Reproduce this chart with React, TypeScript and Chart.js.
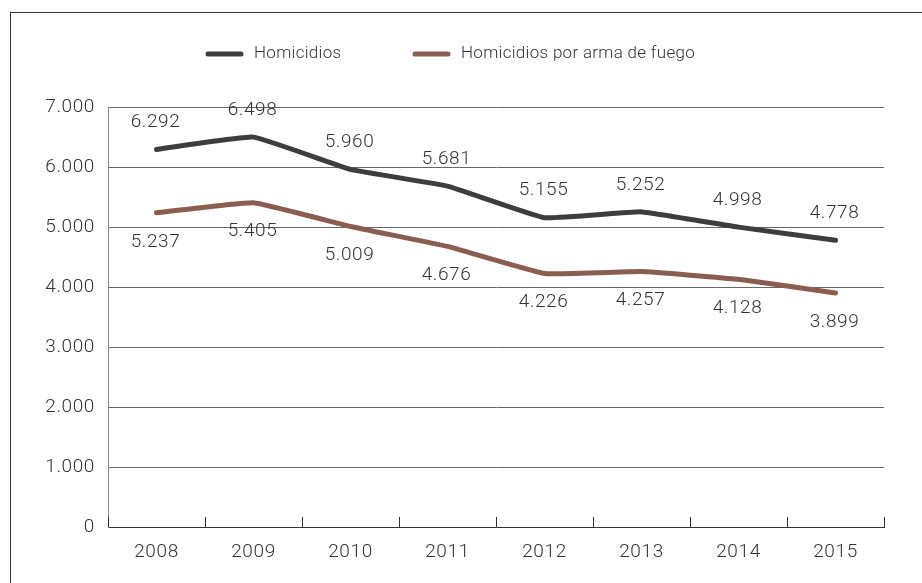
import React, { useEffect, useRef } from "react";
import { Chart, registerables } from "chart.js";

Chart.register(...registerables);

const years = ["2008", "2009", "2010", "2011", "2012", "2013", "2014", "2015"];
const homicidios = [6292, 6498, 5960, 5681, 5155, 5252, 4998, 4778];
const armaFuego = [5237, 5405, 5009, 4676, 4226, 4257, 4128, 3899];
const seriesNames = ["Homicidios", "Homicidios por arma de fuego"];
const yMin = 0;
const yMax = 7000;
const yStep = 1000;

const FONT = "Roboto, 'Noto Sans', sans-serif";
const TEXT = "#333333";
const COL_H = "#3d3d3d";
const COL_A = "#8b5d51";
const SP = "0.6px";

const fmt = (v: number) => String(v).replace(/\B(?=(\d{3})+(?!\d))/g, ".");

const setSpacing = (chart: any, s: string) => {
  try {
    (chart.ctx as any).letterSpacing = s;
  } catch (e) {}
};

const customPlugin = {
  id: "custom",
  beforeUpdate(chart: any) {
    setSpacing(chart, SP);
  },
  beforeLayout(chart: any) {
    setSpacing(chart, SP);
  },
  beforeDraw(chart: any) {
    const ctx = chart.ctx;
    setSpacing(chart, SP);
    ctx.save();
    ctx.fillStyle = "#ffffff";
    ctx.fillRect(0, 0, chart.width, chart.height);
    ctx.strokeStyle = "#333333";
    ctx.lineWidth = 1;
    ctx.strokeRect(10.5, 12.5, chart.width + 20, chart.height + 20);
    ctx.restore();
  },
  afterDatasetsDraw(chart: any) {
    const ctx = chart.ctx;
    ctx.save();
    setSpacing(chart, SP);
    ctx.font = `300 19px ${FONT}`;
    ctx.fillStyle = TEXT;
    ctx.textAlign = "center";
    ctx.textBaseline = "middle";
    chart.data.datasets.forEach((ds: any, di: number) => {
      const meta = chart.getDatasetMeta(di);
      meta.data.forEach((el: any, i: number) => {
        const v = ds.data[i];
        const y = di === 0 ? el.y - 27 : el.y + 29;
        ctx.fillText(fmt(v), el.x - 1, y);
      });
    });
    // upward x tick marks at category boundaries
    const xs = chart.scales.x;
    const n = chart.data.labels.length;
    const w = (xs.right - xs.left) / n;
    ctx.strokeStyle = "#333333";
    ctx.lineWidth = 1;
    ctx.beginPath();
    for (let i = 0; i <= n; i++) {
      const px = Math.round(xs.left + i * w) + 0.5;
      ctx.moveTo(px, xs.top - 10);
      ctx.lineTo(px, xs.top);
    }
    ctx.stroke();
    ctx.restore();
  },
  afterDraw(chart: any) {
    const ctx = chart.ctx;
    ctx.save();
    setSpacing(chart, "0.3px");
    ctx.font = `300 17px ${FONT}`;
    ctx.textBaseline = "middle";
    ctx.textAlign = "left";
    const items = [
      { x: 206, name: seriesNames[0], color: COL_H },
      { x: 413, name: seriesNames[1], color: COL_A },
    ];
    const y = 54;
    items.forEach((it) => {
      ctx.strokeStyle = it.color;
      ctx.lineWidth = 5;
      ctx.lineCap = "round";
      ctx.beginPath();
      ctx.moveTo(it.x + 2, y);
      ctx.lineTo(it.x + 35, y);
      ctx.stroke();
      ctx.fillStyle = TEXT;
      ctx.fillText(it.name, it.x + 48, y);
    });
    ctx.restore();
    setSpacing(chart, SP);
  },
};

export default function App() {
  const canvasRef = useRef<HTMLCanvasElement | null>(null);

  useEffect(() => {
    if (!canvasRef.current) return;
    const chart = new Chart(canvasRef.current, {
      type: "line",
      data: {
        labels: years,
        datasets: [
          {
            label: seriesNames[0],
            data: homicidios,
            borderColor: COL_H,
            backgroundColor: COL_H,
            borderWidth: 5,
            borderCapStyle: "round",
            borderJoinStyle: "round",
            pointRadius: 0,
            tension: 0.1,
          },
          {
            label: seriesNames[1],
            data: armaFuego,
            borderColor: COL_A,
            backgroundColor: COL_A,
            borderWidth: 5,
            borderCapStyle: "round",
            borderJoinStyle: "round",
            pointRadius: 0,
            tension: 0.1,
          },
        ],
      },
      options: {
        responsive: false,
        animation: false,
        devicePixelRatio: 1,
        layout: { padding: { top: 107, right: 38, bottom: 0, left: 0 } },
        plugins: {
          legend: { display: false },
          tooltip: { enabled: false },
          title: { display: false },
        },
        scales: {
          x: {
            offset: true,
            grid: { display: false },
            border: { display: true, color: "#333333", width: 1 },
            ticks: {
              color: TEXT,
              font: { family: FONT, size: 19, weight: "300" },
              padding: 6,
              maxRotation: 0,
              autoSkip: false,
            },
            afterFit: (s: any) => {
              s.height = 56;
            },
          },
          y: {
            min: yMin,
            max: yMax,
            grid: { color: "#666666", lineWidth: 1, drawTicks: false },
            border: { display: true, color: "#8a8a8a", width: 1 },
            ticks: {
              stepSize: yStep,
              color: TEXT,
              font: { family: FONT, size: 19, weight: "300" },
              padding: 13,
              callback: (v: any) => fmt(Number(v)),
            },
            afterFit: (s: any) => {
              s.width = 108;
            },
          },
        },
      },
      plugins: [customPlugin],
    });
    return () => chart.destroy();
  }, []);

  return (
    <div style={{ position: "fixed", left: 0, top: 0, width: 922, height: 583, background: "#fff" }}>
      <canvas ref={canvasRef} width={922} height={583} style={{ display: "block" }} />
    </div>
  );
}
